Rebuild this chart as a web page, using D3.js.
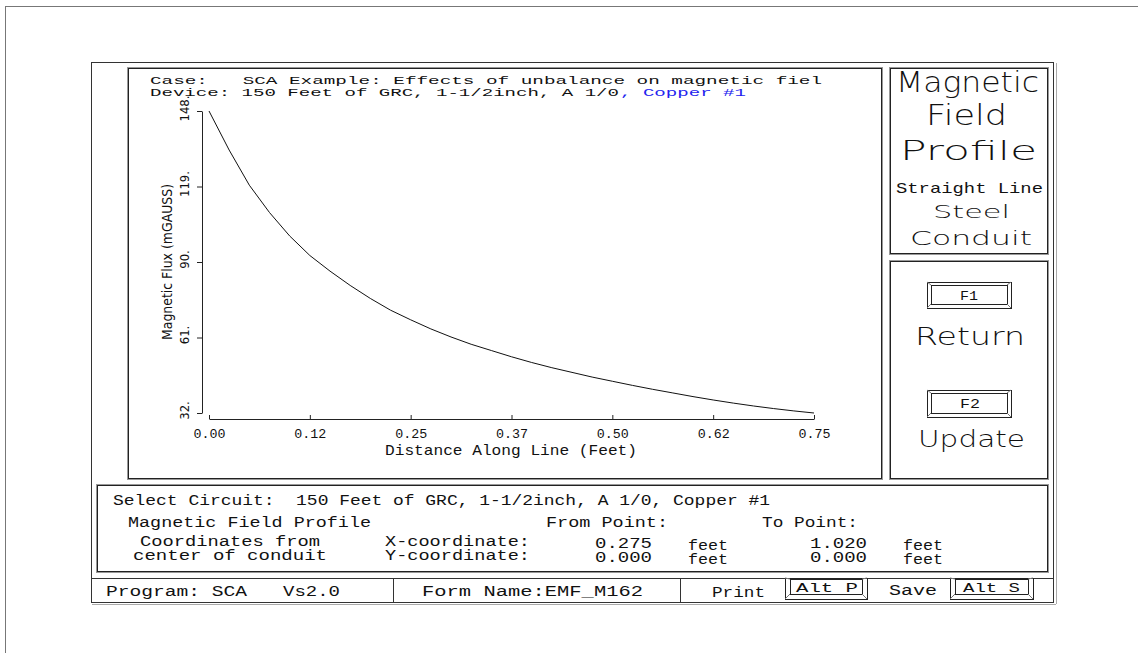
<!DOCTYPE html>
<html>
<head>
<meta charset="utf-8">
<script src="https://cdn.jsdelivr.net/npm/d3@7"></script>
<style>
  body { margin: 0; background: #fff; }
  text { font-family: "Liberation Mono", "DejaVu Sans Mono", monospace; fill: #111; white-space: pre; }
  .cond { font-family: "DejaVu Sans Condensed", "DejaVu Sans", sans-serif; }
  .big { font-family: "DejaVu Sans", sans-serif; font-weight: 200; }
</style>
</head>
<body>
<div id="chart"></div>
<script>
// distance along line (feet) and magnetic flux (mGauss)
const distance = [0, 0.025, 0.05, 0.075, 0.1, 0.125, 0.15, 0.175, 0.2, 0.225, 0.25,
  0.275, 0.3, 0.325, 0.35, 0.375, 0.4, 0.425, 0.45, 0.475, 0.5,
  0.525, 0.55, 0.575, 0.6, 0.625, 0.65, 0.675, 0.7, 0.725, 0.75];
const flux = [148, 133, 119.5, 109, 100, 92.5, 86.5, 81, 76, 71.5, 67.8,
  64.3, 61.2, 58.4, 56, 53.6, 51.4, 49.4, 47.6, 45.8, 44.2,
  42.6, 41.1, 39.7, 38.3, 37.0, 35.8, 34.7, 33.7, 32.8, 32.0];

const xTicks = [0, 0.125, 0.25, 0.375, 0.5, 0.625, 0.75];
const xTickLabels = ["0.00", "0.12", "0.25", "0.37", "0.50", "0.62", "0.75"];
const yTicks = [32, 61, 90, 119, 148];
const yTickLabels = ["32.", "61.", "90.", "119.", "148."];

const svg = d3.select("#chart").append("svg")
  .attr("width", 1138).attr("height", 653);

// stretched text so the wide stroke font of the original is matched
function put(s, x0, x1, yb, size, color) {
  return svg.append("text")
    .attr("x", x0).attr("y", yb)
    .attr("font-size", size)
    .attr("textLength", x1 - x0)
    .attr("lengthAdjust", "spacingAndGlyphs")
    .style("fill", color || "#111")
    .text(s);
}

function box(x0, y0, x1, y1) {
  svg.append("rect").attr("x", x0 + 0.5).attr("y", y0 + 0.5)
    .attr("width", x1 - x0).attr("height", y1 - y0)
    .attr("fill", "none").attr("stroke", "#999");
  svg.append("rect").attr("x", x0 + 1.5).attr("y", y0 + 1.5)
    .attr("width", x1 - x0 - 2).attr("height", y1 - y0 - 2)
    .attr("fill", "none").attr("stroke", "#222");
}

function line(x1, y1, x2, y2, c) {
  svg.append("line").attr("x1", x1).attr("y1", y1).attr("x2", x2).attr("y2", y2)
    .attr("stroke", c || "#222");
}

function button(x0, y0, x1, y1, ix0, iy0, ix1, iy1) {
  svg.append("rect").attr("x", x0 + 0.5).attr("y", y0 + 0.5)
    .attr("width", x1 - x0).attr("height", y1 - y0)
    .attr("fill", "none").attr("stroke", "#222");
  svg.append("rect").attr("x", ix0 + 0.5).attr("y", iy0 + 0.5)
    .attr("width", ix1 - ix0).attr("height", iy1 - iy0)
    .attr("fill", "none").attr("stroke", "#222");
  line(x0, y0, ix0, iy0, "#777"); line(x1, y0, ix1, iy0, "#777");
  line(x0, y1, ix0, iy1, "#777"); line(x1, y1, ix1, iy1, "#777");
}

// frames
svg.append("rect").attr("x", 5.5).attr("y", 6.5).attr("width", 1200).attr("height", 700)
  .attr("fill", "none").attr("stroke", "#777");
svg.append("rect").attr("x", 91.5).attr("y", 62.5).attr("width", 962).attr("height", 540)
  .attr("fill", "none").attr("stroke", "#333");
line(1056.5, 63, 1056.5, 604, "#aaa");
line(92, 604.5, 1056, 604.5, "#aaa");
box(127, 67, 882, 479);
box(889, 67, 1048, 254);
box(889, 260, 1048, 479);
box(96, 484, 1048, 572);
line(92, 578.5, 1054, 578.5, "#333");
line(393.5, 579, 393.5, 602, "#333");
line(680.5, 579, 680.5, 602, "#333");

// plot
const x = d3.scaleLinear().domain([0, 0.75]).range([209, 814]);
const y = d3.scaleLinear().domain([32, 148]).range([413, 111]);

const xAxis = svg.append("g")
  .attr("transform", "translate(0,419)")
  .call(d3.axisBottom(x).tickValues(xTicks).tickSize(-4).tickSizeOuter(0)
    .tickFormat((d, i) => xTickLabels[i]));
xAxis.select(".domain").attr("stroke", "#222");
xAxis.selectAll(".tick line").attr("stroke", "#222");
xAxis.selectAll(".tick text")
  .attr("y", 19).attr("dy", 0)
  .attr("font-size", 12)
  .attr("font-family", "Liberation Mono, DejaVu Sans Mono, monospace")
  .attr("x", -16).attr("text-anchor", "start")
  .attr("textLength", 32).attr("lengthAdjust", "spacingAndGlyphs")
  .style("fill", "#111");

const yAxis = svg.append("g")
  .attr("transform", "translate(202,0)")
  .call(d3.axisLeft(y).tickValues(yTicks).tickSize(5).tickSizeOuter(0)
    .tickFormat((d, i) => yTickLabels[i]));
yAxis.select(".domain").attr("stroke", "#222");
yAxis.selectAll(".tick line").attr("stroke", "#222");
yAxis.selectAll(".tick text")
  .attr("class", "cond")
  .attr("x", null).attr("dy", 0)
  .attr("transform", "translate(-13,-3) rotate(-90)")
  .attr("y", 0)
  .attr("text-anchor", "middle")
  .attr("font-size", 13)
  .attr("font-family", "DejaVu Sans Condensed, DejaVu Sans, sans-serif")
  .style("fill", "#111");

svg.append("text")
  .attr("class", "cond")
  .attr("transform", "translate(172,262) rotate(-90)")
  .attr("text-anchor", "middle")
  .attr("font-size", 14)
  .attr("textLength", 156).attr("lengthAdjust", "spacingAndGlyphs")
  .text("Magnetic Flux (mGAUSS)");

svg.append("path")
  .datum(distance.map((d, i) => [d, flux[i]]))
  .attr("fill", "none").attr("stroke", "#111").attr("stroke-width", 1)
  .attr("d", d3.line().x(d => x(d[0])).y(d => y(d[1])));

put("Case:   SCA Example: Effects of unbalance on magnetic fiel", 150, 822, 84, 11);
put("Device: 150 Feet of GRC, 1-1/2inch, A 1/0", 150, 619, 96, 11);
put(", Copper #1", 620, 746, 96, 11, "#2323ee");
put("Distance Along Line (Feet)", 385, 637, 455, 15);

// side panel
put("Magnetic", 896, 1039, 92, 28).attr("class", "big");
put("Field", 926, 1007, 125, 29).attr("class", "big");
put("Profile", 900, 1037, 160, 27).attr("class", "big");
put("Straight Line", 896, 1043, 193, 15);
put("Steel", 933, 1010, 218, 17).attr("class", "big");
put("Conduit", 910, 1032, 245, 19).attr("class", "big");
button(927, 282, 1011, 308, 931, 285, 1007, 304);
put("F1", 960, 978, 300, 13);
put("Return", 915, 1025, 345, 24).attr("class", "big");
button(927, 390, 1011, 417, 931, 393, 1007, 413);
put("F2", 960, 980, 408, 13);
put("Update", 918, 1025, 447, 23).attr("class", "big");

// info panel
put("Select Circuit:  150 Feet of GRC, 1-1/2inch, A 1/0, Copper #1", 113, 770, 505, 14);
put("Magnetic Field Profile", 128, 371, 527, 14);
put("From Point:", 546, 668, 527, 14);
put("To Point:", 762, 858, 527, 14);
put("Coordinates from", 140, 320, 546, 14);
put("center of conduit", 133, 327, 560, 14);
put("X-coordinate:", 385, 530, 546, 14);
put("Y-coordinate:", 385, 530, 560, 14);
put("0.275", 595, 652, 548, 14);
put("0.000", 595, 652, 562, 14);
put("feet", 688, 728, 550, 14);
put("feet", 688, 728, 564, 14);
put("1.020", 810, 867, 548, 14);
put("0.000", 810, 867, 562, 14);
put("feet", 903, 943, 550, 14);
put("feet", 903, 943, 564, 14);

// footer
put("Program: SCA", 106, 247, 596, 14);
put("Vs2.0", 283, 340, 596, 14);
put("Form Name:EMF_M162", 422, 643, 596, 14);
put("Print", 712, 765, 597, 14);
button(785, 578, 867, 599, 790, 579, 862, 594);
put("Alt P", 796, 858, 592, 13);
put("Save", 889, 937, 595, 14);
button(950, 578, 1033, 599, 955, 579, 1028, 594);
put("Alt S", 963, 1020, 592, 13);
</script>
</body>
</html>
